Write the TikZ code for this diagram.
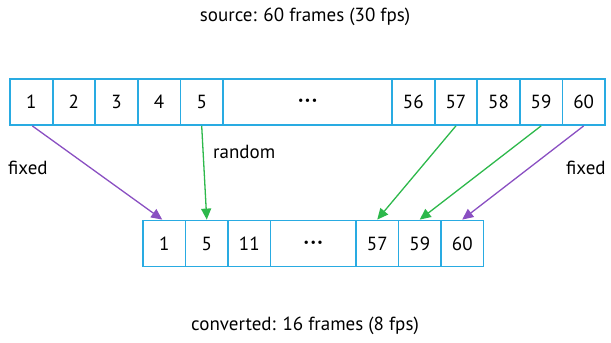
\documentclass[tikz,border=0pt]{standalone}
\usepackage{fontspec}
\setmainfont{PT Sans}
\usetikzlibrary{arrows.meta}
\definecolor{boxblue}{HTML}{29ABE2}
\definecolor{arrgreen}{HTML}{2DB84B}
\definecolor{arrpurple}{HTML}{8A4FC2}
\newcommand{\mydots}{{\fontsize{12}{12}\selectfont •\kern1.5pt•\kern1.5pt•}}
\begin{document}
\begin{tikzpicture}[x=1pt,y=-1pt,
  frame/.style={draw=boxblue,line width=1.8pt,minimum height=46pt,inner sep=0pt,font=\fontsize{19}{22}\selectfont},
  fbox/.style={frame,minimum width=42.6pt},
  gbox/.style={frame,minimum width=42.5pt},
  lbl/.style={font=\fontsize{19}{22}\selectfont,inner sep=0pt},
  garr/.style={draw=arrgreen,line width=1.3pt,-{Triangle[length=11pt,width=10pt]}},
  parr/.style={draw=arrpurple,line width=1.3pt,-{Triangle[length=11pt,width=10pt]}}]
\useasboundingbox (0,0) rectangle (611,343);
% top row
\foreach \i/\t [count=\k from 0] in {1/1,2/2,3/3,4/4,5/5}
  \node[fbox] (t\i) at (31.3+42.6*\k,102) {\t};
\node[frame,minimum width=168.8pt] (tdots) at (307.7,102) {\mydots};
\foreach \i [count=\k from 0] in {56,57,58,59,60}
  \node[fbox] (t\i) at (413.3+42.6*\k,102) {\i};
% bottom row
\node[gbox] (b1) at (164.25,243.5) {1};
\node[gbox] (b5) at (206.75,243.5) {5};
\node[gbox] (b11) at (249.25,243.5) {11};
\node[frame,minimum width=85.5pt] (bdots) at (313.25,243.5) {\mydots};
\node[gbox] (b57) at (377.25,243.5) {57};
\node[gbox] (b59) at (419.75,243.5) {59};
\node[gbox] (b60) at (462.25,243.5) {60};
% arrows
\draw[parr] ([xshift=1pt]t1.south) -- ([xshift=-2pt]b1.north);
\draw[garr] (t5.south) -- (b5.north);
\draw[garr] (t57.south) -- (b57.north);
\draw[garr] (t59.south) -- (b59.north);
\draw[parr] (t60.south) -- (b60.north);
% labels
\node[lbl] (title) at (305,17) {source: 60 frames (30 fps)};
\node[lbl] (sub) at (305,326) {converted: 16 frames (8 fps)};
\node[lbl,anchor=west] (fl) at (8,168) {fixed};
\node[lbl,anchor=west] (fr) at (566,168) {fixed};
\node[lbl,anchor=west] (rnd) at (213,152) {random};
\end{tikzpicture}
\end{document}
